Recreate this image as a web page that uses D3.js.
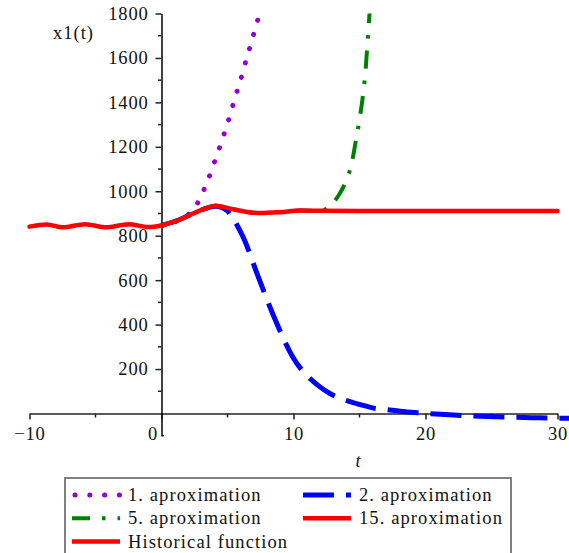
<!DOCTYPE html>
<html>
<head>
<meta charset="utf-8">
<script src="https://cdn.jsdelivr.net/npm/d3@7"></script>
<style>
  body { margin: 0; background: #fff; }
</style>
</head>
<body>
<script>
var svgWidth = 569;
var svgHeight = 553;

// historical function, t in [-10, 0]
var histT = [-10, -8.7, -7.5, -5.8, -4.2, -2.5, -1, 0];
var histV = [841, 851, 838, 852, 838, 852, 839, 846];

// 15. aproximation
var ap15T = [0, 1.4, 2.4, 3.2, 4.1, 5.2, 6.45, 7.5, 9, 10.5, 12, 15, 20, 25, 30];
var ap15V = [846, 873, 900, 920, 935, 922, 907, 902, 906, 913, 912, 911, 911, 911, 911];

// 1. aproximation
var ap1T = [0, 1, 2, 2.84, 3.3, 3.72, 4.1, 4.48, 4.83, 5.17, 5.49, 5.82, 6.15, 6.45, 6.78, 7.08, 7.4, 7.7];
var ap1V = [846, 862, 893, 958, 1019, 1082, 1147, 1210, 1274, 1338, 1404, 1469, 1533, 1599, 1664, 1728, 1794, 1860];

// 2. aproximation
var ap2T = [0, 1.4, 2.4, 3.2, 4.1, 4.94, 5.5, 6.2, 7.33, 8.52, 9.91, 11.93, 12.76, 13.9, 15.04, 16.17, 17.08, 18.07, 19.43, 21.5, 23.5, 25.9, 28.1, 30, 31];
var ap2V = [846, 873, 900, 920, 933, 914, 870, 792, 615, 435, 258, 123, 90, 61, 40, 23, 17, 10, 3, -5, -11, -16, -19, -21, -21];

// 5. aproximation
var ap5T = [0, 1.4, 2.4, 3.2, 4.1, 5.2, 6.45, 7.5, 9, 10.5, 12, 12.5, 12.89, 13.4, 13.9, 14.41, 14.73, 15.04, 15.29, 15.47, 15.59, 15.72, 15.85];
var ap5V = [846, 873, 900, 920, 935, 922, 907, 902, 906, 913, 912, 922, 942, 980, 1035, 1127, 1229, 1337, 1446, 1551, 1656, 1764, 1880];

var xTicks = [-10, 0, 10, 20, 30];
var xMinor = [-5, 5, 15, 25];
var yTicks = [200, 400, 600, 800, 1000, 1200, 1400, 1600, 1800];
var yMinor = [100, 300, 500, 700, 900, 1100, 1300, 1500, 1700];

var legendLabels = ["1. aproximation", "2. aproximation", "5. aproximation", "15. aproximation", "Historical function"];
var legendColors = ["#9400d3", "#0000ff", "#008000", "#ff0000", "#ff0000"];

var serif = "'Liberation Serif', 'Times New Roman', Times, serif";
var fontSize = "18.5px";

var svg = d3.select("body").append("svg")
  .attr("width", svgWidth)
  .attr("height", svgHeight);

var x = d3.scaleLinear().domain([-10, 30]).range([29.5, 557.5]);
var y = d3.scaleLinear().domain([-100, 1800]).range([435.7, 13.5]);

// clip curves at top of view
svg.append("clipPath").attr("id", "clip")
  .append("rect")
  .attr("x", 0).attr("y", y(1800))
  .attr("width", svgWidth).attr("height", svgHeight);

function styleText(sel, spacing) {
  sel.attr("font-family", null)
    .style("font-family", serif)
    .style("font-size", fontSize)
    .style("letter-spacing", spacing)
    .attr("fill", "#111");
}

// x axis
var xAxis = svg.append("g")
  .attr("transform", `translate(0, ${y(0)})`)
  .call(d3.axisBottom(x)
    .tickValues(xTicks)
    .tickSize(6)
    .tickSizeOuter(0)
    .tickPadding(7)
    .tickFormat(d => d < 0 ? "\u2212" + Math.abs(d) : d));
xAxis.attr("font-family", null);
styleText(xAxis.selectAll("text"), "0.8px");
xAxis.selectAll("text").filter(d => d === 0).attr("x", -9);
xAxis.selectAll(".tick line").attr("stroke", "#222").attr("stroke-width", 1.5);
xAxis.select(".domain").attr("stroke", "#222").attr("stroke-width", 1.6);
xAxis.selectAll(".minor")
  .data(xMinor)
  .enter()
  .append("line")
  .attr("x1", d => x(d)).attr("x2", d => x(d))
  .attr("y1", 0).attr("y2", 4)
  .attr("stroke", "#222").attr("stroke-width", 1.5);

// y axis
var yAxis = svg.append("g")
  .attr("transform", `translate(${x(0)}, 0)`)
  .call(d3.axisLeft(y)
    .tickValues(yTicks)
    .tickSize(6)
    .tickSizeOuter(0)
    .tickPadding(7)
    .tickFormat(d3.format("d")));
yAxis.attr("font-family", null);
styleText(yAxis.selectAll("text"), "0.8px");
yAxis.selectAll(".tick line").attr("stroke", "#222").attr("stroke-width", 1.5);
yAxis.select(".domain").attr("stroke", "#111").attr("stroke-width", 1.6);
yAxis.selectAll(".minor")
  .data(yMinor)
  .enter()
  .append("line")
  .attr("x1", -3.5).attr("x2", 0)
  .attr("y1", d => y(d)).attr("y2", d => y(d))
  .attr("stroke", "#222").attr("stroke-width", 1.5);
yAxis.append("line")
  .attr("x1", 0).attr("x2", 2.5)
  .attr("y1", y(-100)).attr("y2", y(-100))
  .attr("stroke", "#222").attr("stroke-width", 1.5);

// axis labels
styleText(svg.append("text")
  .attr("x", 53).attr("y", 39)
  .text("x1(t)"), "1px");
styleText(svg.append("text")
  .attr("x", 358).attr("y", 467)
  .attr("text-anchor", "middle")
  .style("font-style", "italic")
  .text("t"), "0px");

// curves
var line = d3.line()
  .x(d => x(d[0]))
  .y(d => y(d[1]))
  .curve(d3.curveMonotoneX);

function zip(ts, vs) {
  return ts.map((t, i) => [t, vs[i]]);
}

var series = [
  { pts: zip(ap1T, ap1V), color: legendColors[0], width: 5, dash: "0.1,14.7", cap: "round" },
  { pts: zip(ap2T, ap2V), color: legendColors[1], width: 5, dash: "31,12", cap: "butt" },
  { pts: zip(ap5T, ap5V), color: legendColors[2], width: 4, dash: "18,12,3.5,12", cap: "butt" },
  { pts: zip(ap15T, ap15V), color: legendColors[3], width: 4.5, dash: null, cap: "round" },
  { pts: zip(histT, histV), color: legendColors[4], width: 4.5, dash: null, cap: "round" }
];

var curves = svg.append("g").attr("clip-path", "url(#clip)");
curves.selectAll("path")
  .data(series)
  .enter()
  .append("path")
  .attr("d", d => line(d.pts))
  .attr("fill", "none")
  .attr("stroke", d => d.color)
  .attr("stroke-width", d => d.width)
  .attr("stroke-dasharray", d => d.dash)
  .attr("stroke-linecap", d => d.cap)
  .attr("stroke-linejoin", "round");

// legend
var legend = svg.append("g");
legend.append("rect")
  .attr("x", 65).attr("y", 478)
  .attr("width", 446).attr("height", 100)
  .attr("fill", "none")
  .attr("stroke", "#808080")
  .attr("stroke-width", 2);

var items = legend.selectAll(".item")
  .data(series)
  .enter()
  .append("g")
  .attr("transform", (d, i) => `translate(${i % 2 === 0 ? 72 : 303}, ${495 + Math.floor(i / 2) * 23.3})`);
items.append("line")
  .attr("x1", (d, i) => i === 0 ? 3 : 0)
  .attr("x2", 48)
  .attr("y1", 0).attr("y2", 0)
  .attr("stroke", d => d.color)
  .attr("stroke-width", d => d.width)
  .attr("stroke-dasharray", d => d.dash)
  .attr("stroke-linecap", d => d.cap === "round" && d.dash ? "round" : "butt");
styleText(items.append("text")
  .attr("x", 56)
  .attr("y", 6)
  .text((d, i) => legendLabels[i]), "1.1px");
</script>
</body>
</html>
